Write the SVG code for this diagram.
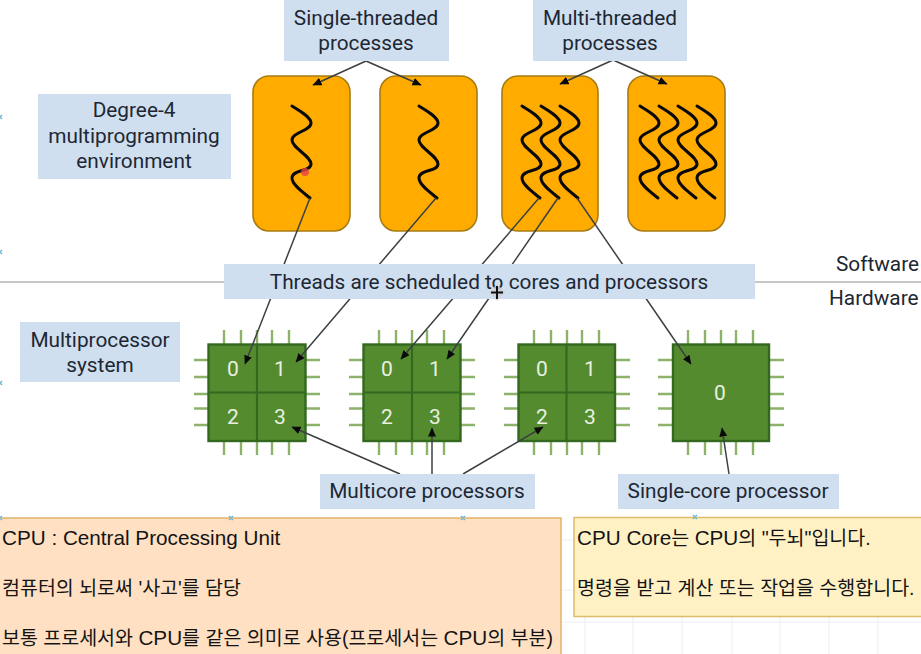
<svg xmlns="http://www.w3.org/2000/svg" xmlns:xlink="http://www.w3.org/1999/xlink" width="921" height="654" viewBox="0 0 921 654">
<style>
text{font-family:Roboto,"Noto Sans CJK KR",sans-serif}
.proc{fill:#ffab00;stroke:#a67c14;stroke-width:1.6}
.wave{fill:none;stroke:#0a0a0a;stroke-width:3;stroke-linecap:round;stroke-linejoin:round}
.lbl{fill:#cfdff0}
.lt{font-size:20.800px;fill:#1d2733;text-anchor:middle}
.lt2{font-size:20.800px;fill:#1d2733}
.conn{fill:none;stroke:#3c4043;stroke-width:1.5;marker-end:url(#arr)}
.chip{fill:#558b2f;stroke:#33691e;stroke-width:2.4}
.div{stroke:#33691e;stroke-width:2.2}
.pin{stroke:#8db36b;stroke-width:2.4}
.num{font-size:21px;fill:#e8f0e0;text-anchor:middle}
.note{font-family:"Liberation Sans","Noto Sans CJK KR",sans-serif;font-size:19.500px;fill:#141414}
.la{font-size:20.700px}
.grid{stroke:#eeeeee;stroke-width:1}
.mk{stroke:#6fb6d8;stroke-width:1.5}
</style>
<defs>
<marker id="arr" markerWidth="10" markerHeight="9" refX="8.500" refY="4" orient="auto" markerUnits="userSpaceOnUse"><path d="M0 0L9 4L0 8Z" fill="#0a0a0a"/></marker>
<path id="w" class="wave" d="M0 0C8 5 19 11 19 17C19 25 0 26 0 34C0 42 19 50 19 58C19 66 0 63 0 72C0 79 12 87 18 92"/>
<g id="pins" class="pin">
<path d="M16 -14V0M33 -14V0M49 -14V0M64 -14V0M81 -14V0M16 97V111M33 97V111M49 97V111M64 97V111M81 97V111M-14 16H0M-14 33H0M-14 50H0M-14 64.500H0M-14 81H0M98 16H112M98 33H112M98 50H112M98 64.500H112M98 81H112"/>
</g>
</defs>
<rect width="921" height="654" fill="#ffffff"/>
<g id="grid" class="grid">
<path d="M585 617V654M633 617V654M682 617V654M732 617V654M780 617V654M829 617V654M878 617V654M561 622H921M561 540H574M561 590H574"/>
</g>
<path id="divider" d="M0 282H921" stroke="#b5b5b5" stroke-width="1.400"/>
<g id="process-1"><rect class="proc" x="253" y="76" width="97" height="155" rx="16"/><use xlink:href="#w" href="#w" x="292" y="106"/></g>
<g id="process-2"><rect class="proc" x="380" y="76" width="97" height="155" rx="16"/><use xlink:href="#w" href="#w" x="419" y="106"/></g>
<g id="process-3"><rect class="proc" x="502" y="76" width="96" height="155" rx="16"/><use xlink:href="#w" href="#w" x="522" y="106"/><use xlink:href="#w" href="#w" x="541" y="106"/><use xlink:href="#w" href="#w" x="560" y="106"/></g>
<g id="process-4"><rect class="proc" x="628" y="76" width="97" height="155" rx="16"/><use xlink:href="#w" href="#w" x="640" y="106"/><use xlink:href="#w" href="#w" x="659" y="106"/><use xlink:href="#w" href="#w" x="678" y="106"/><use xlink:href="#w" href="#w" x="697" y="106"/></g>
<g id="chip-1"><use xlink:href="#pins" href="#pins" x="208" y="344"/><rect class="chip" x="208.500" y="344.500" width="97" height="96.500"/><path class="div" d="M257 344V441M208 392.500H306"/><text class="num" x="233" y="376">0</text><text class="num" x="280" y="376">1</text><text class="num" x="233" y="424">2</text><text class="num" x="280" y="424">3</text></g>
<g id="chip-2"><use xlink:href="#pins" href="#pins" x="363" y="344"/><rect class="chip" x="363.500" y="344.500" width="97" height="96.500"/><path class="div" d="M412 344V441M363 392.500H461"/><text class="num" x="387" y="376">0</text><text class="num" x="435" y="376">1</text><text class="num" x="387" y="424">2</text><text class="num" x="435" y="424">3</text></g>
<g id="chip-3"><use xlink:href="#pins" href="#pins" x="518" y="344"/><rect class="chip" x="518.500" y="344.500" width="96.500" height="96.500"/><path class="div" d="M566.500 344V441M518 392.500H615"/><text class="num" x="542" y="376">0</text><text class="num" x="590" y="376">1</text><text class="num" x="542" y="424">2</text><text class="num" x="590" y="424">3</text></g>
<g id="chip-4"><use xlink:href="#pins" href="#pins" x="672" y="344"/><rect class="chip" x="673" y="344.500" width="96" height="96.500"/><text class="num" x="720" y="400">0</text></g>
<g id="connectors">
<path class="conn" d="M366 61L313 85"/>
<path class="conn" d="M366 61L421 85"/>
<path class="conn" d="M613 60L560 84"/>
<path class="conn" d="M613 60L667 84"/>
<path class="conn" d="M310 198L245 364"/>
<path class="conn" d="M436 198L296 362"/>
<path class="conn" d="M539 198L401 359"/>
<path class="conn" d="M558 198L447 359"/>
<path class="conn" d="M577 198L691 364"/>
<path class="conn" d="M400 474L292 427"/>
<path class="conn" d="M432 474V428"/>
<path class="conn" d="M463 474L543 427"/>
<path class="conn" d="M729 474L722 428"/>
</g>
<g id="label-single"><rect class="lbl" x="284" y="0" width="165" height="61"/><text class="lt" x="366" y="25">Single-threaded</text><text class="lt" x="366" y="50">processes</text></g>
<g id="label-multi"><rect class="lbl" x="533" y="0" width="154" height="61"/><text class="lt" x="610" y="25">Multi-threaded</text><text class="lt" x="610" y="50">processes</text></g>
<g id="label-degree"><rect class="lbl" x="38" y="94" width="193" height="85"/><text class="lt" x="134" y="117">Degree-4</text><text class="lt" x="134" y="143">multiprogramming</text><text class="lt" x="134" y="168">environment</text></g>
<g id="label-threads"><rect class="lbl" x="224" y="264" width="531" height="35"/><text class="lt" x="489" y="289">Threads are scheduled to cores and processors</text></g>
<g id="label-software"><text class="lt2" x="836" y="271">Software</text></g>
<g id="label-hardware"><text class="lt2" x="829" y="305">Hardware</text></g>
<g id="label-multiproc"><rect class="lbl" x="20" y="322" width="160" height="60"/><text class="lt" x="100" y="347">Multiprocessor</text><text class="lt" x="100" y="372">system</text></g>
<g id="label-multicore"><rect class="lbl" x="320" y="474" width="215" height="35"/><text class="lt" x="427" y="498">Multicore processors</text></g>
<g id="label-singlecore"><rect class="lbl" x="618" y="474" width="221" height="35"/><text class="lt" x="728" y="498">Single-core processor</text></g>
<g id="note-cpu"><rect x="-2" y="518" width="563" height="140" fill="#ffe0c2" stroke="#e0b468" stroke-width="1.500"/>
<text class="note la" x="2" y="545">CPU : Central Processing Unit</text>
<text class="note" x="2" y="595">컴퓨터의 뇌로써 '사고'를 담당</text>
<text class="note" x="2" y="645">보통 프로세서와 <tspan class="la">CPU</tspan>를 같은 의미로 사용(프로세서는 <tspan class="la">CPU</tspan>의 부분)</text></g>
<g id="note-core"><rect x="574" y="517.500" width="349" height="99" fill="#fff1c4" stroke="#dcbc6a" stroke-width="1.500"/>
<text class="note" x="577" y="545"><tspan class="la">CPU Core</tspan>는 <tspan class="la">CPU</tspan>의 "두뇌"입니다.</text>
<text class="note" x="577" y="595">명령을 받고 계산 또는 작업을 수행합니다.</text></g>
<g id="artifacts">
<circle cx="305" cy="172" r="4" fill="#e8404a" fill-opacity="0.8"/>
<path d="M497 284L505 292L497 301L489 292Z" fill="#cfcfcf" fill-opacity="0.8"/>
<path d="M497 286V299M491 292.500H503" stroke="#111" stroke-width="2"/>
<g class="mk"><path d="M229 516l4 4m0 -4l-4 4M461 516l4 4m0 -4l-4 4M693 515l4 4m0 -4l-4 4M-2 516l4 4m0 -4l-4 4M-2 115l4 4m0 -4l-4 4M-2 250l4 4m0 -4l-4 4M-2 381l4 4m0 -4l-4 4"/></g>
</g>
</svg>
